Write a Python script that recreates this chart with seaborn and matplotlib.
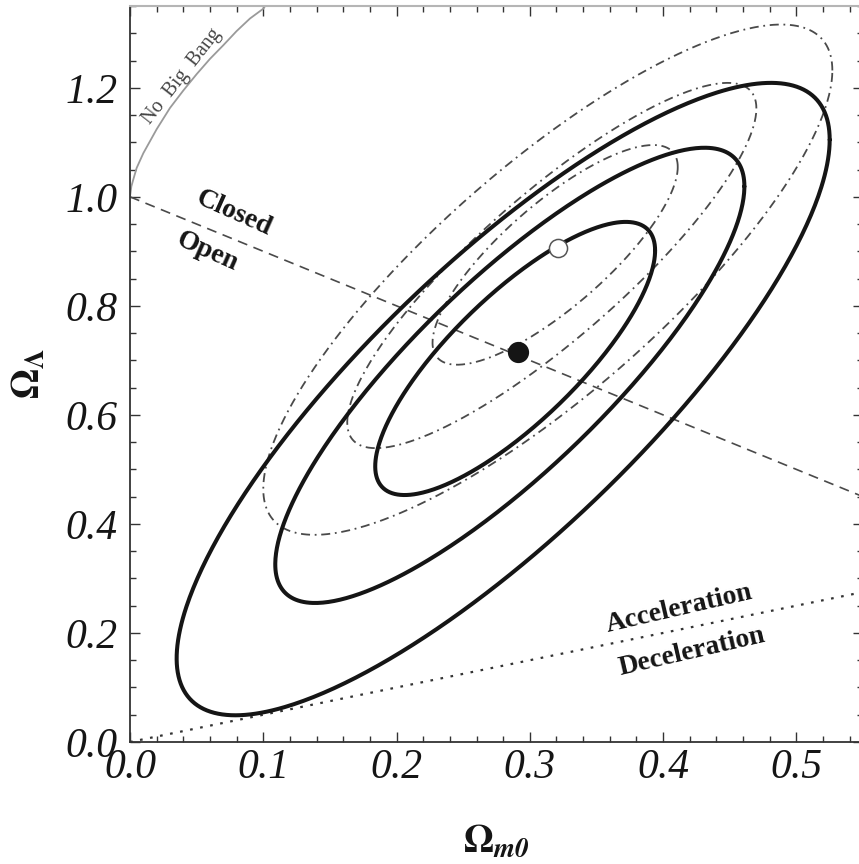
import numpy as np
import pandas as pd
import matplotlib
matplotlib.use("Agg")
import matplotlib.pyplot as plt
from matplotlib.ticker import MultipleLocator, FormatStrFormatter
import seaborn as sns

# ---------------- data ----------------
# solid confidence contours (1, 2, 3 sigma): centre, half-extent and correlation
solid_cx = [0.289, 0.285, 0.280]
solid_cy = [0.7035, 0.6725, 0.629]
solid_hx = [0.105, 0.176, 0.245]
solid_hy = [0.2505, 0.4175, 0.580]
solid_rho = [0.79, 0.83, 0.82]

# dash-dotted confidence contours (1, 2, 3 sigma)
dd_cx = [0.319, 0.3165, 0.3135]
dd_cy = [0.8935, 0.874, 0.848]
dd_hx = [0.092, 0.1535, 0.2135]
dd_hy = [0.2015, 0.335, 0.468]
dd_rho = [0.80, 0.86, 0.82]

# best-fit points
best_solid = (0.291, 0.716)
best_dd = (0.321, 0.906)

# flat-universe line (Closed / Open)
flat_x = [0.0, 0.55]
flat_y = [1.0, 0.45]
# acceleration / deceleration line
acc_x = [0.0, 0.55]
acc_y = [0.0, 0.275]
# "No Big Bang" boundary
nbb_x = [0.0, 0.001, 0.0025, 0.005, 0.01, 0.02, 0.03, 0.04, 0.05, 0.06, 0.07, 0.08, 0.09, 0.10, 0.102]
nbb_y = [1.0, 1.019, 1.032, 1.053, 1.080, 1.124, 1.163, 1.195, 1.225, 1.253, 1.278, 1.304, 1.327, 1.345, 1.352]

x_ticks = [0.0, 0.1, 0.2, 0.3, 0.4, 0.5]
y_ticks = [0.0, 0.2, 0.4, 0.6, 0.8, 1.0, 1.2]

# ---------------- style ----------------
sns.set_theme(style="ticks")
plt.rcParams["font.family"] = ["Liberation Serif", "DejaVu Serif"]
plt.rcParams["mathtext.fontset"] = "stix"

fig = plt.figure(figsize=(8.59, 8.64), dpi=100)
ax = fig.add_axes([130 / 859, 122 / 864, 733 / 859, 736 / 864])


def ellipse_frame(cx, cy, hx, hy, rho, n=500):
    t = np.linspace(0, 2 * np.pi, n)
    phi = np.arccos(rho)
    return pd.DataFrame({"x": cx + hx * np.cos(t), "y": cy + hy * np.cos(t - phi)})


# reference lines
sns.lineplot(data=pd.DataFrame({"x": flat_x, "y": flat_y}), x="x", y="y", ax=ax,
             color="#4a4a4a", lw=1.2, linestyle=(0, (6, 4)), estimator=None, sort=False, zorder=2)
sns.lineplot(data=pd.DataFrame({"x": acc_x, "y": acc_y}), x="x", y="y", ax=ax,
             color="#333333", lw=1.6, linestyle=(0, (1.2, 3.4)), estimator=None, sort=False, zorder=2)
sns.lineplot(data=pd.DataFrame({"x": nbb_x, "y": nbb_y}), x="x", y="y", ax=ax,
             color="#9a9a9a", lw=1.3, estimator=None, sort=False, zorder=2)

# dash-dotted contours
for cx, cy, hx, hy, r in zip(dd_cx, dd_cy, dd_hx, dd_hy, dd_rho):
    sns.lineplot(data=ellipse_frame(cx, cy, hx, hy, r), x="x", y="y", ax=ax,
                 color="#4a4a4a", lw=1.3, linestyle=(0, (5, 2.6, 1, 2.6)),
                 estimator=None, sort=False, zorder=3)

# solid contours
for cx, cy, hx, hy, r in zip(solid_cx, solid_cy, solid_hx, solid_hy, solid_rho):
    sns.lineplot(data=ellipse_frame(cx, cy, hx, hy, r), x="x", y="y", ax=ax,
                 color="#151515", lw=2.9, estimator=None, sort=False, zorder=4)

# best-fit points
sns.scatterplot(x=[best_solid[0]], y=[best_solid[1]], ax=ax, s=200, color="#151515",
                edgecolor="#151515", zorder=6)
sns.scatterplot(x=[best_dd[0]], y=[best_dd[1]], ax=ax, s=170, facecolor="white",
                edgecolor="#555555", linewidth=1.1, zorder=6)

# annotations
bold = dict(fontfamily="Liberation Serif", fontweight="bold", fontsize=20, color="#151515",
            ha="center", va="center", rotation_mode="anchor")
ax.text(0.078, 0.969, "Closed", rotation=-24, **bold)
ax.text(0.058, 0.899, "Open", rotation=-24, **bold)
ax.text(0.412, 0.244, "Acceleration", rotation=13, **bold)
ax.text(0.4216, 0.165, "Deceleration", rotation=13, **bold)
ax.text(0.039, 1.22, "No  Big  Bang", rotation=52, fontfamily="Liberation Serif",
        fontsize=14.5, color="#444444", ha="center", va="center", rotation_mode="anchor")

# axes
ax.set_xlim(0, 0.55)
ax.set_ylim(0, 1.35)
ax.set_xticks(x_ticks)
ax.set_yticks(y_ticks)
ax.xaxis.set_minor_locator(MultipleLocator(0.02))
ax.yaxis.set_minor_locator(MultipleLocator(0.05))
ax.xaxis.set_major_formatter(FormatStrFormatter("%.1f"))
ax.yaxis.set_major_formatter(FormatStrFormatter("%.1f"))
ax.tick_params(which="both", direction="in", top=True, right=True, color="#333333", width=1.0)
ax.tick_params(which="major", length=7)
ax.tick_params(which="minor", length=4.5)
ax.tick_params(axis="x", which="major", pad=5)
ax.tick_params(axis="y", which="major", pad=9)
for lab in ax.get_xticklabels() + ax.get_yticklabels():
    lab.set_fontstyle("italic")
    lab.set_fontsize(30)
    lab.set_color("#151515")

for side in ["left", "bottom"]:
    ax.spines[side].set_color("#333333")
    ax.spines[side].set_linewidth(1.3)
ax.spines["top"].set_color("#b5b5b5")
ax.spines["top"].set_linewidth(1.5)
ax.spines["right"].set_color("#333333")

ax.set_xlabel(r"$\mathbf{\Omega}_{\mathbfit{m0}}$", fontsize=28, labelpad=26, color="#151515")
ax.set_ylabel(r"$\mathbf{\Omega}_{\mathbf{\Lambda}}$", fontsize=28, labelpad=12, color="#151515")

fig.savefig("out.png", dpi=100)
